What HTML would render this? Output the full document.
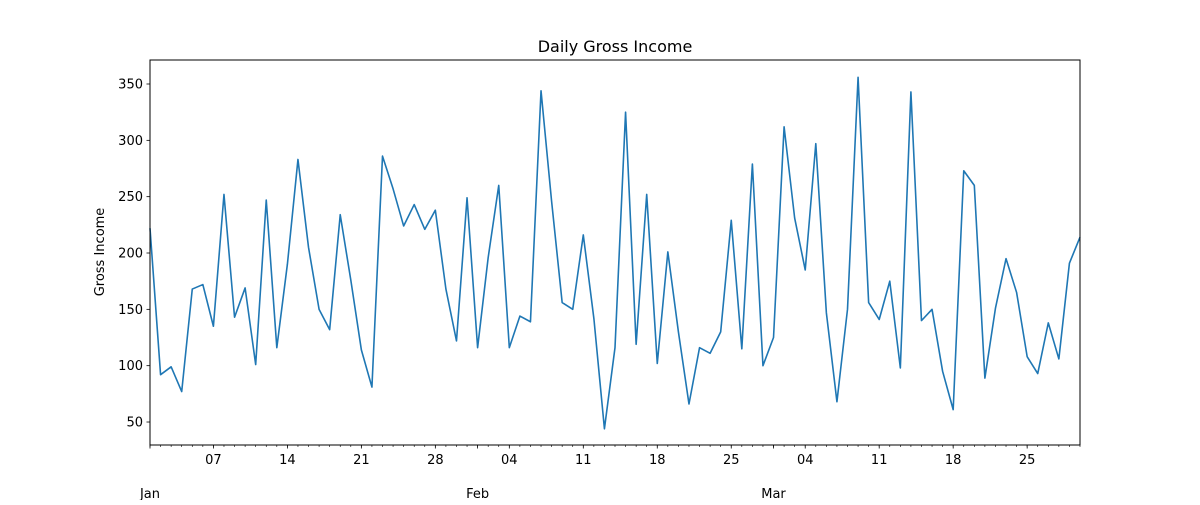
<!DOCTYPE html>
<html><head><meta charset="utf-8"><style>
body{margin:0;background:#fff;}
svg text{font-family:"DejaVu Sans","Liberation Sans",sans-serif;fill:#000;}
</style></head><body>
<svg id="chart" width="1200" height="500" viewBox="0 0 1200 500" xmlns="http://www.w3.org/2000/svg">
<rect x="0" y="0" width="1200" height="500" fill="#fff"/>
<text x="615" y="52" font-size="16" text-anchor="middle">Daily Gross Income</text>
<text transform="translate(104,252) rotate(-90)" font-size="13" text-anchor="middle">Gross Income</text>
<g id="ticks"></g>
<g id="plot"></g>
<rect x="150" y="60" width="930" height="385" fill="none" stroke="#000" stroke-width="1"/>
</svg>
<script>
const values = [222,92,99,77,168,172,135,252,143,169,101,247,116,190,283,205,150,132,234,176,114,81,286,257,224,243,221,238,168,122,249,116,196,260,116,144,139,344,246,156,150,216,142,44,116,325,119,252,102,201,130,66,116,111,130,229,115,279,100,125,312,231,185,297,147,68,150,356,156,141,175,98,343,140,150,95,61,273,260,89,151,195,165,108,93,138,106,191,214];
const yTicks = [50,100,150,200,250,300,350];
const majorDays = [0,6,13,20,27,31,34,41,48,55,59,62,69,76,83];
const majorLabels = ["","07","14","21","28","","04","11","18","25","","04","11","18","25"];
const monthDays = [0,31,59];
const monthLabels = ["Jan","Feb","Mar"];
const NS="http://www.w3.org/2000/svg";
const x0=150,x1=1080,y0=445,y1=60,ymin=29.6,ymax=371.3,nDays=values.length;
const xs=d=>x0+d*(x1-x0)/(nDays-1);
const ys=v=>y0-(v-ymin)*(y0-y1)/(ymax-ymin);
const tg=document.getElementById('ticks'),pg=document.getElementById('plot');
function mk(tag,attrs,parent){const e=document.createElementNS(NS,tag);for(const k in attrs)e.setAttribute(k,attrs[k]);parent.appendChild(e);return e;}
yTicks.forEach(v=>{
  const t=mk('line',{x1:x0-3.5,x2:x0,y1:ys(v),y2:ys(v),stroke:'#000','stroke-width':0.8},tg);
  
  
  const l=mk('text',{x:x0-7,y:ys(v)+4.5,'font-size':13,'text-anchor':'end'},tg);
  l.textContent=v;
  
  
});
for(let d=0;d<nDays;d++){
  const t=mk('line',{x1:xs(d),x2:xs(d),y1:y0,y2:y0+2,stroke:'#000','stroke-width':0.6},tg);
  
  
}
majorDays.forEach((d,i)=>{
  const t=mk('line',{x1:xs(d),x2:xs(d),y1:y0,y2:y0+3.5,stroke:'#000','stroke-width':0.8},tg);
  
  
  if(majorLabels[i]){
    const l=mk('text',{x:xs(d),y:y0+19,'font-size':13,'text-anchor':'middle'},tg);
    l.textContent=majorLabels[i];
    
    
  }
});
monthDays.forEach((d,i)=>{
  const l=mk('text',{x:xs(d),y:y0+53,'font-size':13,'text-anchor':'middle'},tg);
  l.textContent=monthLabels[i];
  
  
});
const p=mk('polyline',{points:values.map((v,i)=>xs(i)+','+ys(v)).join(' '),fill:'none',stroke:'#1f77b4','stroke-width':1.6,'stroke-linejoin':'round'},pg);


</script>
</body></html>
